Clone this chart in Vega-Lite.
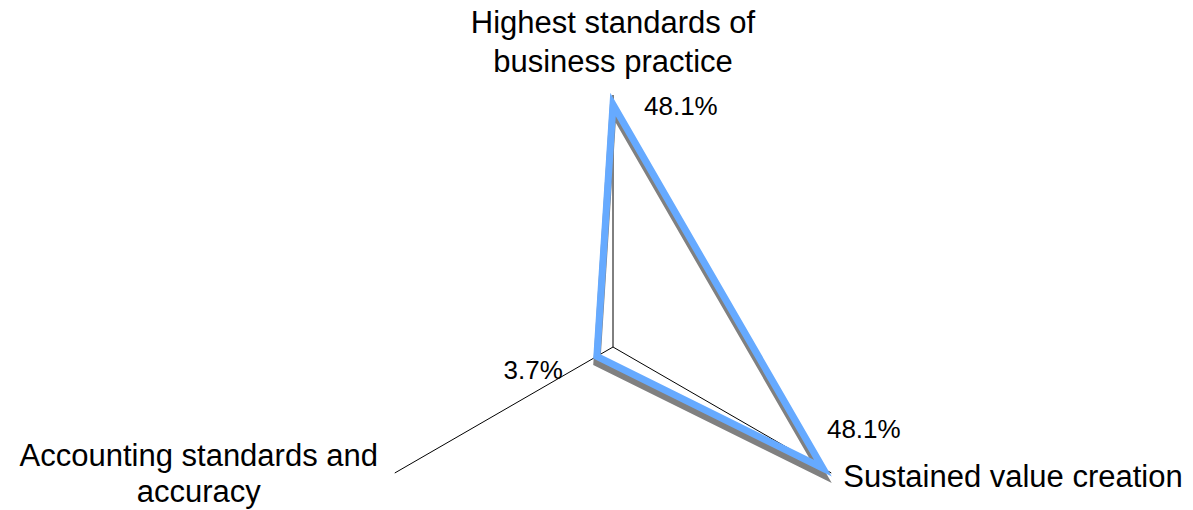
{
  "$schema": "https://vega.github.io/schema/vega-lite/v6.json",
  "width": 1193,
  "height": 510,
  "autosize": "none",
  "padding": 0,
  "background": "white",
  "config": {"view": {"stroke": null}, "text": {"font": "Liberation Sans", "color": "black"}},
  "data": {
    "values": [
      {"category": "Highest standards of\nbusiness practice", "key": "top", "ord": 0, "value": 48.1},
      {"category": "Sustained value creation", "key": "right", "ord": 1, "value": 48.1},
      {"category": "Accounting standards and\naccuracy", "key": "left", "ord": 2, "value": 3.7}
    ]
  },
  "transform": [
    {"calculate": "PI/2 - datum.ord*2*PI/3", "as": "ang"},
    {"calculate": "datum.value*cos(datum.ang)", "as": "px"},
    {"calculate": "datum.value*sin(datum.ang)", "as": "py"},
    {"calculate": "50*cos(datum.ang)", "as": "ex"},
    {"calculate": "50*sin(datum.ang)", "as": "ey"},
    {"calculate": "format(datum.value, '.1f') + '%'", "as": "label"}
  ],
  "encoding": {
    "x": {"field": "px", "type": "quantitative", "scale": {"domain": [-121.63, 115.08], "nice": false, "zero": false}, "axis": null},
    "y": {"field": "py", "type": "quantitative", "scale": {"domain": [-32.34, 68.85], "nice": false, "zero": false}, "axis": null}
  },
  "layer": [
    {
      "mark": {"type": "rule", "color": "black", "strokeWidth": 1},
      "encoding": {
        "x": {"datum": 0, "type": "quantitative"},
        "y": {"datum": 0, "type": "quantitative"},
        "x2": {"field": "ex"},
        "y2": {"field": "ey"}
      }
    },
    {
      "mark": {"type": "line", "interpolate": "linear-closed", "color": "#808080", "strokeWidth": 7, "xOffset": 0, "yOffset": 6.5},
      "encoding": {"order": {"field": "ord"}}
    },
    {
      "mark": {"type": "line", "interpolate": "linear-closed", "color": "#66aaff", "strokeWidth": 7},
      "encoding": {"order": {"field": "ord"}}
    },
    {
      "transform": [{"filter": "datum.key == 'top'"}],
      "mark": {"type": "text", "fontSize": 26, "align": "left", "baseline": "alphabetic", "dx": 31, "dy": 10},
      "encoding": {"text": {"field": "label"}}
    },
    {
      "transform": [{"filter": "datum.key == 'right'"}],
      "mark": {"type": "text", "fontSize": 26, "align": "left", "baseline": "alphabetic", "dx": 4, "dy": -30},
      "encoding": {"text": {"field": "label"}}
    },
    {
      "transform": [{"filter": "datum.key == 'left'"}],
      "mark": {"type": "text", "fontSize": 26, "align": "right", "baseline": "alphabetic", "dx": -34, "dy": 23},
      "encoding": {"text": {"field": "label"}}
    },
    {
      "transform": [{"filter": "datum.key == 'top'"}],
      "mark": {"type": "text", "fontSize": 31, "align": "center", "baseline": "alphabetic", "dx": 0, "dy": -62, "lineBreak": "\n", "lineHeight": 39},
      "encoding": {"x": {"field": "ex", "type": "quantitative"}, "y": {"field": "ey", "type": "quantitative"}, "text": {"field": "category"}}
    },
    {
      "transform": [{"filter": "datum.key == 'right'"}],
      "mark": {"type": "text", "fontSize": 31, "align": "left", "baseline": "alphabetic", "dx": 12, "dy": 14},
      "encoding": {"x": {"field": "ex", "type": "quantitative"}, "y": {"field": "ey", "type": "quantitative"}, "text": {"field": "category"}}
    },
    {
      "transform": [{"filter": "datum.key == 'left'"}],
      "mark": {"type": "text", "fontSize": 31, "align": "center", "baseline": "alphabetic", "dx": -196, "dy": -7, "lineBreak": "\n", "lineHeight": 36},
      "encoding": {"x": {"field": "ex", "type": "quantitative"}, "y": {"field": "ey", "type": "quantitative"}, "text": {"field": "category"}}
    }
  ]
}
